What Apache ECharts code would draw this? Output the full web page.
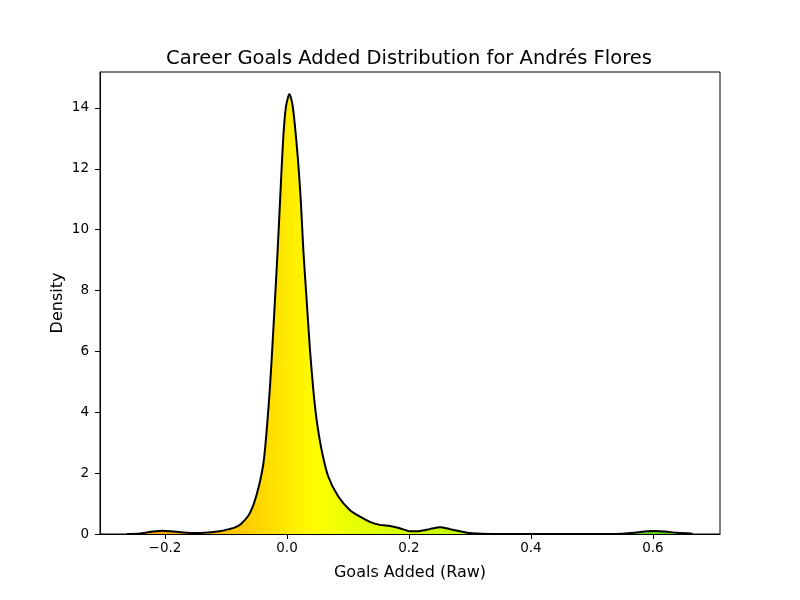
<!DOCTYPE html>
<html lang="en">
<head>
    <meta charset="UTF-8">
    <title>Career Goals Added Distribution</title>
    <script src="https://cdn.jsdelivr.net/npm/echarts@6/dist/echarts.min.js"></script>
    <style>
        html, body { margin: 0; padding: 0; background: #fff; }
    </style>
</head>
<body>
<div id="main" style="width: 800px;height:600px;"></div>

<script type="text/javascript">
    // KDE curve
    var goalsX = [-0.263, -0.24, -0.22, -0.205, -0.19, -0.17, -0.15, -0.13, -0.11, -0.095,
        -0.085, -0.075, -0.0634, -0.0565, -0.0497, -0.044, -0.0388, -0.0355, -0.0323, -0.028,
        -0.0241, -0.0197, -0.0153, -0.011, -0.0065, -0.002, 0.004, 0.009, 0.0131, 0.018,
        0.0225, 0.0268, 0.0322, 0.0377, 0.0432, 0.0486, 0.0568, 0.0678, 0.0842, 0.1033,
        0.1197, 0.136, 0.152, 0.169, 0.185, 0.2016, 0.218, 0.234, 0.251, 0.267,
        0.284, 0.30, 0.32, 0.35, 0.40, 0.50, 0.55, 0.57, 0.59, 0.605,
        0.62, 0.64, 0.665];
    var density = [0.00, 0.02, 0.08, 0.11, 0.09, 0.05, 0.03, 0.05, 0.09, 0.16,
        0.22, 0.34, 0.60, 0.88, 1.30, 1.75, 2.30, 2.90, 3.65, 4.80,
        6.10, 7.70, 9.33, 11.1, 12.9, 14.0, 14.46, 14.1, 13.4, 12.3,
        11.0, 9.33, 7.69, 6.05, 4.73, 3.75, 2.76, 1.88, 1.23, 0.78,
        0.57, 0.40, 0.30, 0.26, 0.19, 0.09, 0.10, 0.16, 0.22, 0.16,
        0.09, 0.03, 0.01, 0.00, 0.00, 0.00, 0.01, 0.04, 0.09, 0.10,
        0.08, 0.04, 0.01];

    var xTicks = [-0.2, 0, 0.2, 0.4, 0.6];
    var yTicks = [0, 2, 4, 6, 8, 10, 12, 14];

    // fill colour by goals-added value
    var colorStops = [
        [-0.3066, '#f29400'], [-0.2, '#f7a800'], [-0.09, '#ffc400'], [-0.05, '#ffd400'],
        [0, '#ffea00'], [0.05, '#ffff00'], [0.1, '#eaff00'], [0.2, '#d2ff00'],
        [0.3, '#bef800'], [0.6, '#5cd21a'], [0.71, '#3cc420']
    ];

    var xMin = -0.3066, xMax = 0.71;
    var gridLeft = 100, gridRight = 80, gridTop = 72, gridBottom = 66;

    var points = goalsX.map(function (x, i) { return [x, density[i]]; });

    var stops = colorStops.map(function (s) {
        return { offset: (s[0] - xMin) / (xMax - xMin), color: s[1] };
    });

    var myChart = echarts.init(document.getElementById('main'));

    var font = 'DejaVu Sans';
    myChart.setOption({
        animation: false,
        title: {
            text: 'Career Goals Added Distribution for Andrés Flores',
            left: 404,
            textAlign: 'center',
            top: 44,
            textStyle: { fontFamily: font, fontSize: 19.5, fontWeight: 'normal', color: '#000' }
        },
        grid: {
            left: gridLeft, right: gridRight, top: gridTop, bottom: gridBottom,
            show: true, borderColor: '#000', borderWidth: 1, backgroundColor: '#fff'
        },
        xAxis: {
            type: 'value',
            min: xMin, max: xMax,
            name: 'Goals Added (Raw)',
            nameLocation: 'middle',
            nameGap: 31,
            nameMoveOverlap: false,
            nameTextStyle: { fontFamily: font, fontSize: 16, color: '#000' },
            axisLine: { show: true, onZero: false, lineStyle: { color: '#000', width: 1 } },
            axisTick: { show: true, inside: false, length: 5, customValues: xTicks, lineStyle: { color: '#000' } },
            axisLabel: {
                customValues: xTicks, margin: 7,
                fontFamily: font, fontSize: 13.5, color: '#000',
                formatter: function (v) { return (v < 0 ? '\u2212' : '') + Math.abs(v).toFixed(1); }
            },
            splitLine: { show: false }
        },
        yAxis: {
            type: 'value',
            min: 0, max: 15.18,
            name: 'Density',
            nameLocation: 'middle',
            nameGap: 34,
            nameMoveOverlap: false,
            nameTextStyle: { fontFamily: font, fontSize: 16, color: '#000' },
            axisLine: { show: true, onZero: false, lineStyle: { color: '#000', width: 1 } },
            axisTick: { show: true, inside: false, length: 5, customValues: yTicks, lineStyle: { color: '#000' } },
            axisLabel: {
                customValues: yTicks, margin: 11,
                fontFamily: font, fontSize: 13.5, color: '#000'
            },
            splitLine: { show: false }
        },
        series: [{
            name: 'Density',
            type: 'line',
            data: points,
            smooth: 0.25,
            symbol: 'none',
            lineStyle: { color: '#000', width: 2 },
            areaStyle: {
                opacity: 1,
                color: new echarts.graphic.LinearGradient(gridLeft, 0, 800 - gridRight, 0, stops, true)
            }
        }]
    });
</script>
</body>
</html>
